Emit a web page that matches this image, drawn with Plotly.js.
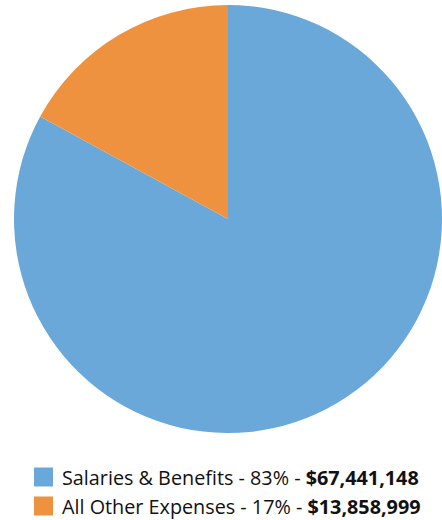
<!DOCTYPE html>
<html><head><meta charset="utf-8">
<script src="https://cdn.plot.ly/plotly-3.0.1.min.js"></script>
<style>html,body{margin:0;padding:0;background:#fff}</style>
</head><body>
<div id="chart" style="width:442px;height:520px"></div>
<script>
const categories = ["Salaries & Benefits", "All Other Expenses"];
const amounts = [67441148, 13858999];
const colors = ["#6aa8da", "#ef9240"];

const total = amounts.reduce((a, b) => a + b, 0);
const annotations = [];
const shapes = [];
const rowY = [477, 506];
categories.forEach((c, i) => {
  const pct = Math.round(amounts[i] / total * 100);
  const money = "$" + amounts[i].toLocaleString("en-US");
  annotations.push({
    xref: "paper", yref: "paper", x: 60 / 442, y: 1 - rowY[i] / 520,
    xanchor: "left", yanchor: "middle", showarrow: false,
    text: c.replace("&", "&amp;") + " - " + pct + "% - <b>" + money + "</b>",
    font: {family: "Open Sans, sans-serif", size: 19.8, color: "#111"}
  });
  shapes.push({
    type: "rect", xref: "paper", yref: "paper",
    x0: 34 / 442, x1: 53 / 442, y0: 1 - (rowY[i] + 9.5) / 520, y1: 1 - (rowY[i] - 9.5) / 520,
    fillcolor: colors[i], line: {width: 0}
  });
});

const data = [{
  type: "pie",
  labels: categories,
  values: amounts,
  sort: false,
  direction: "clockwise",
  rotation: 0,
  marker: {colors: colors, line: {width: 0}},
  textinfo: "none",
  hoverinfo: "label+value+percent",
  domain: {x: [14 / 442, 1], y: [85 / 520, 517 / 520]}
}];

const layout = {
  width: 442, height: 520,
  margin: {l: 0, r: 0, t: 0, b: 0},
  showlegend: false,
  paper_bgcolor: "#fff",
  annotations: annotations,
  shapes: shapes
};
Plotly.newPlot("chart", data, layout, {displayModeBar: false, staticPlot: true});
</script>
</body></html>
